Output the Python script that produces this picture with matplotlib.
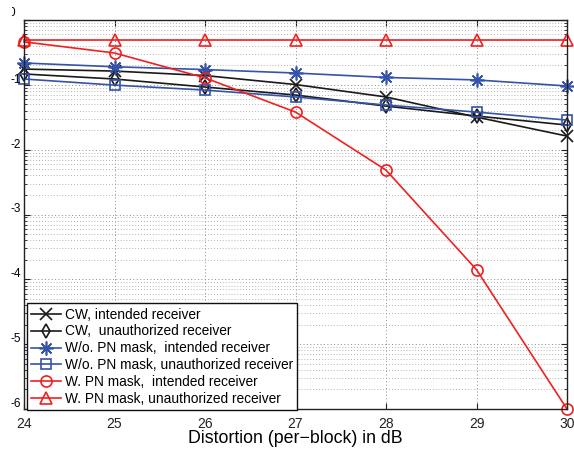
import numpy as np
import matplotlib
matplotlib.use("Agg")
import matplotlib.pyplot as plt
from matplotlib.ticker import LogLocator, NullFormatter
from matplotlib.transforms import Bbox

plt.rcParams['font.family'] = ['Liberation Sans', 'DejaVu Sans']

# Distortion levels (dB) and BER curves
distortion = [24, 25, 26, 27, 28, 29, 30]
cw_intended = [0.175, 0.163, 0.139, 0.101, 0.065, 0.0318, 0.0162]
cw_unauth = [0.147, 0.123, 0.0925, 0.0696, 0.047, 0.033, 0.024]
nopn_intended = [0.217, 0.19, 0.172, 0.152, 0.13, 0.119, 0.096]
nopn_unauth = [0.123, 0.099, 0.083, 0.065, 0.0488, 0.038, 0.0286]
pn_intended = [0.46, 0.31, 0.128, 0.038, 0.00484, 1.41e-4, 1.0e-6]
pn_unauth = [0.5, 0.5, 0.5, 0.5, 0.5, 0.5, 0.5]

labels = [
    "CW, intended receiver",
    "CW,  unauthorized receiver",
    "W/o. PN mask,  intended receiver",
    "W/o. PN mask, unauthorized receiver",
    "W. PN mask,  intended receiver",
    "W. PN mask, unauthorized receiver",
]
xtick_labels = ["24", "25", "26", "27", "28", "29", "30"]
ytick_exponents = [-1, -2, -3, -4, -5, -6]

BLACK = "#1a1a1a"
BLUE = "#3553a8"
RED = "#f02020"

W, H = 574, 451
fig = plt.figure(figsize=(W / 100, H / 100), dpi=100)
ax = fig.add_axes([24 / W, 1 - 409 / H, (567 - 24) / W, (409 - 20) / H])

ASTERISK = (8, 2, 0)
series = [
    (cw_intended, BLACK, "x", 8),
    (cw_unauth, BLACK, "d", 7),
    (nopn_intended, BLUE, ASTERISK, 10),
    (nopn_unauth, BLUE, "s", 6.5),
    (pn_intended, RED, "o", 8),
    (pn_unauth, RED, "^", 8.5),
]
for (vals, col, mk, ms), lab in zip(series, labels):
    ax.semilogy(distortion, vals, color=col, marker=mk, markersize=ms,
                markerfacecolor="none", markeredgecolor=col,
                markeredgewidth=1.2, linewidth=1.2, label=lab, clip_on=False)

ax.set_xlim(24, 30)
ax.set_ylim(1e-6, 1e0)
ax.set_xticks(distortion)
ax.set_xticklabels(xtick_labels, fontsize=10)
ax.yaxis.set_major_locator(LogLocator(base=10, numticks=20))
ax.yaxis.set_minor_locator(LogLocator(base=10, subs=np.arange(2, 10), numticks=100))
ax.yaxis.set_major_formatter(NullFormatter())
ax.yaxis.set_minor_formatter(NullFormatter())

ax.tick_params(which="both", direction="in", top=True, right=True, colors="#222222")
ax.tick_params(which="major", length=4, width=0.8)
ax.tick_params(which="minor", length=2.5, width=0.6)
ax.tick_params(axis="x", pad=6)
for sp in ax.spines.values():
    sp.set_linewidth(1.0)
    sp.set_color("#222222")

ax.grid(True, which="major", linestyle=(0, (1, 2.5)), color="#8a8a8a", linewidth=0.7)
ax.grid(True, which="minor", linestyle=(0, (1, 2.5)), color="#9a9a9a", linewidth=0.6)
ax.set_axisbelow(True)

ax.set_xlabel("Distortion (per\u2212block) in dB", fontsize=12.8, labelpad=-1)

# Exponent-only y labels of the decade ticks
for e in ytick_exponents:
    ax.annotate(f"-{-e}", xy=(0, 10.0 ** e), xycoords=("axes fraction", "data"),
                xytext=(-3, 5), textcoords="offset pixels",
                ha="right", va="center", fontsize=8.5)
zero = ax.annotate("0", xy=(0, 1.0), xycoords=("axes fraction", "data"),
                   xytext=(-9, 7), textcoords="offset pixels",
                   ha="right", va="center", fontsize=8.5)
zero.set_clip_box(Bbox([[11.5, 0], [W, H]]))
zero.set_clip_on(True)

leg = ax.legend(loc="lower left", bbox_to_anchor=(0.005, -0.003), borderaxespad=0,
                fontsize=9.9, frameon=True, fancybox=False, edgecolor="#111111",
                framealpha=1, handlelength=2.2, handletextpad=0.25,
                labelspacing=0.21, borderpad=0.3)
leg.get_frame().set_linewidth(1.0)

fig.savefig("out.png", dpi=100)
